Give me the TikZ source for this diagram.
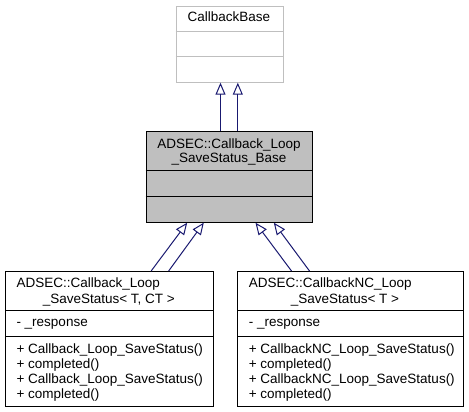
\documentclass[tikz,border=0pt]{standalone}
\usepackage{fontspec}
\setmainfont{Liberation Sans}
\usetikzlibrary{arrows.meta, positioning, calc}

\definecolor{edgeblue}{HTML}{191970}
\definecolor{boxgray}{HTML}{BFBFBF}

\begin{document}
\begin{tikzpicture}[x=1pt, y=-1pt, line width=1pt,
    classbox/.style={draw, rectangle, inner sep=0pt, anchor=north west},
    txt/.style={inner sep=0pt, font=\fontsize{13.5}{15}\selectfont},
    inherit/.style={edgeblue, line width=1pt, -{Triangle[open, length=12pt, width=10pt]}}]
    \useasboundingbox (0,0) rectangle (469,412);

    \def\hdr{26}
    \def\attr{26}

    % classes
    \node[classbox, draw=boxgray, minimum width=107pt, minimum height=76pt] (cbase) at (175.7,5.7) {};
    \node[classbox, fill=boxgray, minimum width=166.6pt, minimum height=90.7pt] (loopbase) at (145.7,131) {};
    \node[classbox, minimum width=208.3pt, minimum height=134.7pt] (loopss) at (5,271) {};
    \node[classbox, minimum width=226pt, minimum height=134.7pt] (loopnc) at (237.3,271) {};

    \draw[boxgray] ($(cbase.north west)+(0,\hdr)$) -- ($(cbase.north east)+(0,\hdr)$);
    \draw[boxgray] ($(cbase.north west)+(0,\hdr+25)$) -- ($(cbase.north east)+(0,\hdr+25)$);
    \draw ($(loopbase.north west)+(0,39.7)$) -- ($(loopbase.north east)+(0,39.7)$);
    \draw ($(loopbase.north west)+(0,65.7)$) -- ($(loopbase.north east)+(0,65.7)$);
    \foreach \b in {loopss, loopnc} {
        \draw ($(\b.north west)+(0,39.7)$) -- ($(\b.north east)+(0,39.7)$);
        \draw ($(\b.north west)+(0,39.7+\attr)$) -- ($(\b.north east)+(0,39.7+\attr)$);
    }

    % labels
    \node[txt, anchor=base] (cbasename) at (229,22) {CallbackBase};
    \node[txt, anchor=base] (lbname1) at (229,148.3) {ADSEC::Callback\_Loop};
    \node[txt, anchor=base] (lbname2) at (229,162.7) {\_SaveStatus\_Base};

    \node[txt, anchor=base west] (lsname1) at (16,287.3) {ADSEC::Callback\_Loop};
    \node[txt, anchor=base] (lsname2) at (108.8,303) {\_SaveStatus< T, CT >};
    \node[txt, anchor=base west] (lsattr) at (16,326.7) {- \_response};
    \node[txt, anchor=base west, align=left] (lsops) at (16,398)
        {+ Callback\_Loop\_SaveStatus()\\+ completed()\\+ Callback\_Loop\_SaveStatus()\\+ completed()};

    \node[txt, anchor=base west] (ncname1) at (248.3,287.3) {ADSEC::CallbackNC\_Loop};
    \node[txt, anchor=base] (ncname2) at (345,303) {\_SaveStatus< T >};
    \node[txt, anchor=base west] (ncattr) at (248.3,326.7) {- \_response};
    \node[txt, anchor=base west, align=left] (ncops) at (248.3,398)
        {+ CallbackNC\_Loop\_SaveStatus()\\+ completed()\\+ CallbackNC\_Loop\_SaveStatus()\\+ completed()};

    % inheritance
    \coordinate (up1) at ($(loopbase.north)+(-9,0)$);
    \coordinate (up2) at ($(loopbase.north)+(8.3,0)$);
    \draw[inherit] (up1) -- (up1 |- cbase.south);
    \draw[inherit] (up2) -- (up2 |- cbase.south);

    \coordinate (ls1) at ($(loopss.north)+(41.5,0)$);
    \coordinate (ls2) at ($(loopss.north)+(59,0)$);
    \coordinate (lt1) at ($(loopbase.south)+(-42.3,0)$);
    \coordinate (lt2) at ($(loopbase.south)+(-25.7,0)$);
    \draw[inherit] (ls1) -- (lt1);
    \draw[inherit] (ls2) -- (lt2);

    \coordinate (nc1) at ($(loopnc.north)+(-59.3,0)$);
    \coordinate (nc2) at ($(loopnc.north)+(-41.3,0)$);
    \coordinate (nt1) at ($(loopbase.south)+(26,0)$);
    \coordinate (nt2) at ($(loopbase.south)+(44.3,0)$);
    \draw[inherit] (nc1) -- (nt1);
    \draw[inherit] (nc2) -- (nt2);
\end{tikzpicture}
\end{document}
